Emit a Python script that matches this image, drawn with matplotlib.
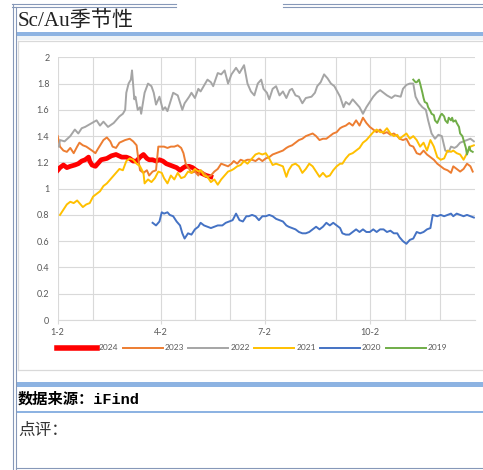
import matplotlib.pyplot as plt
from matplotlib.patches import Rectangle

plt.rcParams['font.family'] = ['Lato', 'Noto Sans CJK SC', 'DejaVu Sans']

# x = days after Jan 2, y = Sc/Au ratio
d2024 = [0, 2, 5, 8, 11, 15, 18, 21, 24, 27, 28, 30, 33, 35, 38, 43, 47, 51, 56, 60, 63, 66,
         69, 72, 75, 78, 80, 83, 86, 89, 92, 95, 98, 101, 104, 107, 110, 112, 115, 118, 121,
         125, 130, 134]
v2024 = [1.14, 1.16, 1.18, 1.16, 1.17, 1.18, 1.19, 1.21, 1.22, 1.24, 1.21, 1.18, 1.17, 1.19,
         1.22, 1.23, 1.25, 1.26, 1.24, 1.24, 1.23, 1.21, 1.21, 1.24, 1.26, 1.23, 1.22, 1.22,
         1.21, 1.22, 1.21, 1.19, 1.18, 1.17, 1.16, 1.14, 1.16, 1.17, 1.17, 1.16, 1.14, 1.12,
         1.10, 1.09]

d2023 = [0, 2, 5, 8, 11, 14, 17, 19, 22, 25, 30, 33, 35, 40, 43, 46, 48, 51, 54, 59, 63, 66,
         69, 70, 72, 75, 78, 80, 83, 86, 88, 91, 93, 96, 99, 102, 105, 108, 110, 112, 115, 117,
         120, 123, 125, 128, 131, 134, 137, 140, 143, 146, 149, 152, 154, 157, 160, 163, 166,
         170, 173, 176, 179, 182, 185, 188, 191, 194, 197, 200, 202, 205, 208, 211, 214, 217,
         220, 223, 226, 229, 232, 235, 238, 241, 244, 247, 249, 252, 255, 258, 261, 264, 267,
         270, 273, 276, 279, 282, 285, 288, 291, 294, 297, 299, 302, 305, 308, 311, 314, 317,
         320, 323, 326, 329, 332, 335, 338, 341, 344, 346, 349, 352, 355, 358, 361, 363]
v2023 = [1.40, 1.32, 1.29, 1.28, 1.31, 1.27, 1.32, 1.35, 1.33, 1.32, 1.29, 1.27, 1.30, 1.37,
         1.39, 1.36, 1.32, 1.31, 1.35, 1.37, 1.38, 1.36, 1.33, 1.26, 1.14, 1.12, 1.14, 1.10,
         1.13, 1.14, 1.32, 1.32, 1.32, 1.31, 1.32, 1.32, 1.33, 1.31, 1.27, 1.19, 1.15, 1.12,
         1.13, 1.10, 1.14, 1.12, 1.09, 1.10, 1.13, 1.15, 1.19, 1.18, 1.17, 1.19, 1.21, 1.19,
         1.22, 1.21, 1.22,
         1.22, 1.21, 1.23, 1.21, 1.23, 1.24, 1.26, 1.27, 1.28, 1.29, 1.31, 1.32, 1.33, 1.35,
         1.37, 1.38, 1.40, 1.41, 1.42, 1.40, 1.37, 1.38, 1.38, 1.40, 1.42, 1.43, 1.46, 1.47,
         1.48, 1.50, 1.48, 1.52, 1.48, 1.54, 1.50, 1.47, 1.45, 1.43, 1.45, 1.42, 1.43, 1.41,
         1.42, 1.40, 1.38, 1.37, 1.38, 1.33, 1.32, 1.27, 1.26, 1.29, 1.26, 1.24, 1.22, 1.19,
         1.17, 1.15, 1.14, 1.12, 1.17, 1.15, 1.13, 1.15, 1.19, 1.17, 1.13]

d2022 = [1, 2, 6, 11, 15, 18, 21, 24, 30, 34, 37, 40, 44, 49, 54, 57, 59, 60, 62, 64, 65, 67,
         68, 70, 72, 73, 76, 79, 82, 84, 86, 89, 92, 94, 96, 101, 105, 109, 111, 115, 117, 120,
         123, 125, 131, 134, 136, 140, 143, 146, 149, 152, 156, 159, 163, 166,
         169, 172, 175, 178, 180, 183, 185, 188, 191, 194, 197, 200, 203, 205, 208, 211, 214,
         217, 222, 225, 227, 230, 233, 236, 239, 242, 247, 250, 252, 255, 258, 261, 264, 267,
         270, 273, 276, 279, 282, 285, 288, 292, 295, 300, 302, 305, 308, 311, 313, 316, 319,
         322, 324, 327, 330, 333, 336, 339, 342, 344, 347, 349, 352, 355, 358, 361, 364]
v2022 = [1.32, 1.37, 1.36, 1.40, 1.45, 1.42, 1.46, 1.47, 1.50, 1.52, 1.48, 1.51, 1.47, 1.50,
         1.55, 1.57, 1.60, 1.73, 1.80, 1.83, 1.90, 1.68, 1.70, 1.60, 1.62, 1.57, 1.73, 1.80,
         1.78, 1.73, 1.64, 1.70, 1.60, 1.62, 1.59, 1.73, 1.71, 1.60, 1.65, 1.70, 1.73, 1.69,
         1.76, 1.74, 1.83, 1.81, 1.78, 1.88, 1.87, 1.90, 1.80, 1.87, 1.92, 1.88, 1.94, 1.80,
         1.74, 1.71, 1.80, 1.83, 1.76, 1.73, 1.68, 1.76, 1.78, 1.71, 1.74, 1.69, 1.75, 1.76,
         1.71, 1.70, 1.65, 1.69, 1.70, 1.73, 1.78, 1.81, 1.87, 1.84, 1.80, 1.78, 1.70, 1.62,
         1.66, 1.64, 1.68, 1.65, 1.62, 1.57, 1.62, 1.66, 1.70, 1.73, 1.75, 1.73, 1.71, 1.69,
         1.71, 1.70, 1.76, 1.79, 1.80, 1.80, 1.70, 1.65, 1.62, 1.60, 1.52, 1.42, 1.38, 1.41,
         1.40, 1.29, 1.28, 1.32, 1.31, 1.32, 1.35, 1.36, 1.37, 1.38, 1.36]

d2021 = [2, 5, 8, 11, 14, 17, 19, 22, 25, 28, 31, 34, 37, 40, 43, 46, 48, 51, 54, 57, 60, 63,
         66, 69, 72, 75, 76, 79, 82, 85, 88, 91, 93, 96, 99, 102, 105, 108, 111, 114, 117, 120,
         123, 125, 128, 131, 134, 137, 140, 143, 146, 149, 152, 154, 157, 160, 163, 166,
         170, 173, 176, 179, 182, 185, 188, 191, 194, 197, 200, 202, 205, 208, 211, 214, 217,
         220, 223, 226, 229, 232, 235, 238, 241, 244, 247, 249, 252, 255, 258, 261, 264, 267,
         270, 273, 276, 279, 282, 285, 288, 291, 294, 297, 299, 302, 305, 308, 311, 314, 317,
         320, 323, 326, 329, 332, 335, 338, 341, 344, 346, 349, 352, 355, 358, 361, 364]
v2021 = [0.80, 0.84, 0.88, 0.90, 0.89, 0.91, 0.89, 0.86, 0.88, 0.89, 0.94, 0.96, 0.98, 1.02,
         1.04, 1.07, 1.09, 1.12, 1.15, 1.14, 1.21, 1.23, 1.22, 1.19, 1.17, 1.12, 1.04, 1.07,
         1.05, 1.08, 1.13, 1.12, 1.08, 1.04, 1.10, 1.07, 1.12, 1.08, 1.09, 1.13, 1.12, 1.15,
         1.13, 1.14, 1.10, 1.09, 1.05, 1.07, 1.03, 1.07, 1.10, 1.13, 1.14, 1.15, 1.17, 1.18,
         1.21, 1.19,
         1.23, 1.26, 1.27, 1.26, 1.27, 1.23, 1.18, 1.19, 1.18, 1.17, 1.09, 1.14, 1.18, 1.19,
         1.17, 1.12, 1.15, 1.19, 1.17, 1.13, 1.09, 1.12, 1.09, 1.10, 1.14, 1.17, 1.19, 1.19,
         1.23, 1.26, 1.27, 1.29, 1.31, 1.35, 1.37, 1.40, 1.43, 1.45, 1.43, 1.43, 1.46, 1.42,
         1.40, 1.41, 1.38, 1.40, 1.42, 1.38, 1.40, 1.37, 1.32, 1.35, 1.29, 1.37, 1.32, 1.24,
         1.22, 1.23, 1.29, 1.28, 1.29, 1.27, 1.26, 1.22, 1.27, 1.32, 1.33]

d2020 = [83, 86, 89, 91, 93, 96, 98, 101, 104, 107, 109, 111, 114, 117, 120, 123, 125, 128,
         131, 134, 137, 140, 144, 147, 150, 153, 156, 159, 162, 165,
         167, 170, 173, 176, 179, 182, 185, 188, 191, 194, 197, 200, 202, 205, 208, 211, 214,
         217, 220, 223, 226, 229, 232, 235, 238, 241, 244, 247, 249, 252, 255, 258, 261, 264,
         267, 270, 273, 276, 279, 282, 285, 288, 291, 294, 297, 299, 302, 305, 308, 311, 314,
         317, 320, 323, 326, 328, 332, 335, 338, 341, 344, 346, 349, 352, 355, 358, 361, 364]
v2020 = [0.74, 0.72, 0.75, 0.82, 0.81, 0.82, 0.80, 0.79, 0.75, 0.72, 0.66, 0.62, 0.66, 0.65,
         0.69, 0.71, 0.74, 0.72, 0.71, 0.70, 0.71, 0.72, 0.72, 0.74, 0.75, 0.76, 0.81, 0.76,
         0.75, 0.79,
         0.79, 0.80, 0.79, 0.76, 0.79, 0.79, 0.80, 0.79, 0.77, 0.76, 0.75, 0.72, 0.71, 0.70,
         0.69, 0.67, 0.66, 0.66, 0.67, 0.69, 0.71, 0.69, 0.71, 0.74, 0.72, 0.74, 0.72, 0.70,
         0.66, 0.65, 0.65, 0.67, 0.69, 0.67, 0.69, 0.67, 0.67, 0.69, 0.67, 0.69, 0.69, 0.67,
         0.68, 0.66, 0.66, 0.63, 0.60, 0.58, 0.61, 0.62, 0.67, 0.66, 0.67, 0.69, 0.70, 0.80,
         0.79, 0.80, 0.79, 0.80, 0.81, 0.79, 0.81, 0.80, 0.79, 0.80, 0.79, 0.78]

d2019 = [311, 313, 314, 316, 317, 319, 320, 321, 323, 324, 326, 327, 329, 330, 332, 333, 335,
         336, 338, 339, 341, 342, 344, 345, 346, 348, 349, 351, 352, 354, 355, 357, 358, 360,
         361, 363]
v2019 = [1.83, 1.81, 1.81, 1.83, 1.80, 1.73, 1.69, 1.66, 1.65, 1.62, 1.59, 1.57, 1.56, 1.52,
         1.50, 1.52, 1.56, 1.57, 1.55, 1.52, 1.50, 1.54, 1.52, 1.54, 1.51, 1.52, 1.50, 1.47,
         1.42, 1.40, 1.37, 1.31, 1.26, 1.32, 1.29, 1.28]

series = [('2024', d2024, v2024, '#ff0000', 3.4),
          ('2023', d2023, v2023, '#ed7d31', 1.4),
          ('2022', d2022, v2022, '#a5a5a5', 1.4),
          ('2021', d2021, v2021, '#ffc000', 1.4),
          ('2020', d2020, v2020, '#4472c4', 1.4),
          ('2019', d2019, v2019, '#70ad47', 1.4)]

tick_days = [0, 90, 181, 273]
tick_labels = ['1-2', '4-2', '7-2', '10-2']
grid_days = [0, 31, 90, 120, 151, 181, 243, 273, 304, 334]
y_ticks = [0, 0.2, 0.4, 0.6, 0.8, 1, 1.2, 1.4, 1.6, 1.8, 2]
y_labels = ['0', '0.2', '0.4', '0.6', '0.8', '1', '1.2', '1.4', '1.6', '1.8', '2']

fig = plt.figure(figsize=(4.83, 4.70), dpi=100)

# page / table decoration in pixel coords
bg = fig.add_axes([0, 0, 1, 1])
bg.set_xlim(0, 483)
bg.set_ylim(470, 0)
bg.axis('off')

frame = '#8698b8'
for y in (3.5, 7.3):
    bg.plot([12, 176], [y, y], color=frame, lw=0.8)
    bg.plot([283, 483], [y, y], color=frame, lw=0.8)
bg.plot([12.5, 12.5], [3.5, 470], color=frame, lw=0.8)
bg.plot([16.3, 16.3], [7.3, 470], color=frame, lw=0.8)
bg.plot([16.3, 483], [468.3, 468.3], color=frame, lw=0.8)

band = '#8db3e2'
bg.add_patch(Rectangle((16.5, 32.3), 467, 4, color=band, lw=0))
bg.add_patch(Rectangle((16.5, 36.3), 467, 3.5, color='#eef3f7', lw=0))
bg.add_patch(Rectangle((16.5, 381.5), 467, 5, color=band, lw=0))
bg.add_patch(Rectangle((16.5, 410.8), 467, 2.6, color=band, lw=0))

# chart box
box = '#d9d9d9'
bg.plot([18, 483], [40.5, 40.5], color=box, lw=0.9)
bg.plot([18, 18], [40.5, 370], color=box, lw=0.9)
bg.plot([18, 483], [370, 370], color=box, lw=0.9)

bg.text(17.5, 21, 'Sc/Au季节性', fontsize=15.2, va='center', color='#222222',
        family=['Liberation Serif', 'Noto Sans CJK SC'])
bg.text(18, 399.5, '数据来源：iFind', fontsize=11, va='center', fontweight='bold',
        color='#000000', family=['Liberation Mono', 'Noto Sans CJK SC'])
bg.text(18, 430, '点评：', fontsize=12, va='center', color='#333333',
        family=['Noto Sans CJK SC'])

# chart
ax = fig.add_axes([57.7 / 483, 1 - 320 / 470, (475 - 57.7) / 483, (320 - 57.3) / 470])
ax.patch.set_alpha(0)
for name, d, v, c, lw in series:
    ax.plot(d, v, color=c, lw=lw, label=name, solid_joinstyle='round')

ax.set_xlim(0, 365)
ax.set_ylim(0, 2)
ax.set_yticks(y_ticks)
ax.set_yticklabels(y_labels)
ax.set_xticks(tick_days)
ax.set_xticklabels(tick_labels)
ax.grid(axis='y', color='#d9d9d9', lw=0.8, zorder=0)
for d in grid_days:
    ax.axvline(d, color='#d9d9d9', lw=0.8, zorder=0)
for s in ['top', 'right', 'left']:
    ax.spines[s].set_visible(False)
ax.spines['bottom'].set_color('#d9d9d9')
ax.spines['bottom'].set_linewidth(0.8)
ax.tick_params(axis='y', length=0, pad=6, labelsize=6.5, labelcolor='#595959')
ax.tick_params(axis='x', length=3, width=0.8, color='#d9d9d9', pad=3,
               labelsize=6.5, labelcolor='#595959')

leg = ax.legend(loc='center', bbox_to_anchor=(252 / 483, 1 - 348 / 470),
                bbox_transform=fig.transFigure, ncol=6, frameon=False, fontsize=6,
                handlelength=4.8, handletextpad=0.25, columnspacing=0.5,
                labelcolor='#595959')
leg.get_lines()[0].set_linewidth(4)

fig.savefig('out.png', dpi=100)
